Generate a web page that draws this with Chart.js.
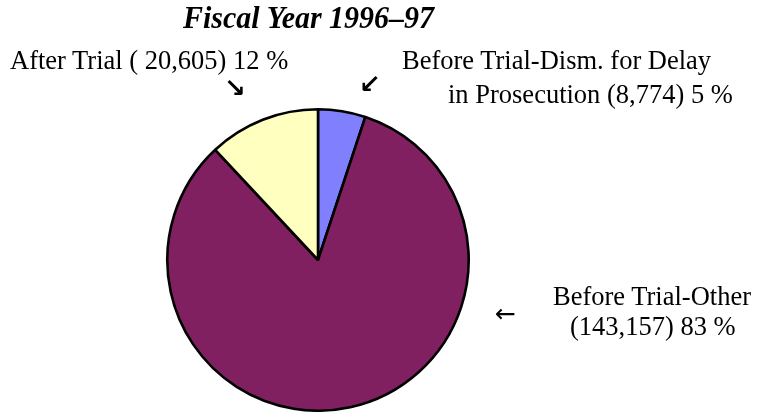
<!DOCTYPE html>
<html>
<head>
<meta charset="utf-8">
<script src="https://cdn.jsdelivr.net/npm/chart.js@4/dist/chart.umd.min.js"></script>
<style>
  html, body { margin: 0; padding: 0; background: #fff; }
  #wrap { position: relative; width: 760px; height: 412px; overflow: hidden; }
  canvas { position: absolute; left: 0; top: 0; }
  .t { position: absolute; white-space: pre; font-family: 'Liberation Serif', 'Times New Roman', serif; color: #000; transform: scaleY(1.06); transform-origin: 0 85%; }
  .arrow { position: absolute; white-space: pre; font-family: 'DejaVu Sans', sans-serif; font-weight: bold; color: #000; }
</style>
</head>
<body>
<div id="wrap">
  <canvas id="c" width="760" height="412"></canvas>
</div>
<script>
const title = 'Fiscal Year 1996\u201397';
const categories = ['Before Trial-Dism. for Delay in Prosecution', 'Before Trial-Other', 'After Trial'];
const caseCounts = [8774, 143157, 20605];
const percents = [5, 83, 12];
const sliceColors = ['#8080FF', '#802060', '#FFFFC0'];

function fmt(n) { return n.toLocaleString('en-US'); }

const ctx = document.getElementById('c').getContext('2d');
new Chart(ctx, {
  type: 'pie',
  data: {
    labels: categories,
    datasets: [{
      data: caseCounts,
      backgroundColor: sliceColors,
      borderColor: '#000000',
      borderWidth: 2.6
    }]
  },
  options: {
    responsive: false,
    animation: false,
    devicePixelRatio: 1,
    layout: { padding: { left: 166, right: 290, top: 108, bottom: 0 } },
    plugins: {
      legend: { display: false },
      tooltip: { enabled: false },
      title: { display: false }
    }
  }
});

// Text overlays (real HTML text), content built from the data arrays
const wrap = document.getElementById('wrap');
function place(text, cls, size, left, baseline, extra) {
  const d = document.createElement('div');
  d.className = cls;
  d.textContent = text;
  d.style.fontSize = size + 'px';
  d.style.lineHeight = size + 'px';
  d.style.left = left + 'px';
  const asc = cls === 't' ? 0.8375 : 0.76;
  d.style.top = (baseline - asc * size) + 'px';
  if (extra) Object.assign(d.style, extra);
  wrap.appendChild(d);
  return d;
}
place(title, 't', 30, 183, 28, { fontWeight: 'bold', fontStyle: 'italic' });
place('After Trial ( ' + fmt(caseCounts[2]) + ') ' + percents[2] + ' %', 't', 26.5, 10, 69);
place('Before Trial-Dism. for Delay', 't', 26.5, 402, 69);
place('in Prosecution (' + fmt(caseCounts[0]) + ') ' + percents[0] + ' %', 't', 26.5, 448, 103);
place('Before Trial-Other', 't', 26.5, 553, 305);
place('(' + fmt(caseCounts[1]) + ') ' + percents[1] + ' %', 't', 26.5, 570, 335);
place('\u2198', 'arrow', 26, 224, 95);
place('\u2199', 'arrow', 26, 359, 91);
place('\u2190', 'arrow', 25, 495, 320, { fontWeight: 'normal' });
</script>
</body>
</html>
